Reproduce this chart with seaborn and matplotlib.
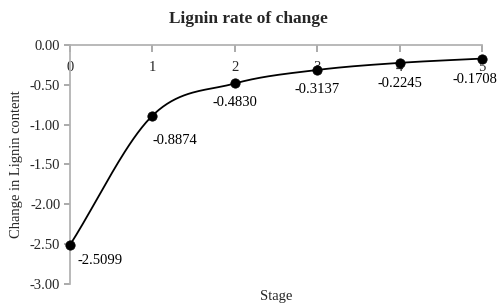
import numpy as np
import matplotlib
matplotlib.use("Agg")
import matplotlib.pyplot as plt
import seaborn as sns
import pandas as pd

stages = [0, 1, 2, 3, 4, 5]
values = [-2.5099, -0.8874, -0.4830, -0.3137, -0.2245, -0.1708]
labels = ["-2.5099", "-0.8874", "-0.4830", "-0.3137", "-0.2245", "-0.1708"]
yticks = [0.0, -0.5, -1.0, -1.5, -2.0, -2.5, -3.0]

sns.set_theme(style="white")
plt.rcParams['font.family'] = ['Liberation Serif', 'DejaVu Serif']

fig = plt.figure(figsize=(4.97, 3.06), dpi=100)
ax = fig.add_axes([0.1408, 0.0719, 0.829, 0.7811])

# smoothed line (Catmull-Rom through the data points, like Excel's smoothing)
x = np.array(stages, float); y = np.array(values, float)
px = np.concatenate([[2*x[0]-x[1]], x, [2*x[-1]-x[-2]]])
py = np.concatenate([[2*y[0]-y[1]], y, [2*y[-1]-y[-2]]])
sx, sy = [], []
for i in range(1, len(px)-2):
    t = np.linspace(0, 1, 40)
    for arr, out in ((px, sx), (py, sy)):
        p0, p1, p2, p3 = arr[i-1], arr[i], arr[i+1], arr[i+2]
        out.extend(0.5*((2*p1) + (-p0+p2)*t + (2*p0-5*p1+4*p2-p3)*t**2 + (-p0+3*p1-3*p2+p3)*t**3))
ax.plot(sx, sy, color='black', lw=1.3, zorder=2)

df = pd.DataFrame({"Stage": stages, "Change": values})
sns.scatterplot(data=df, x="Stage", y="Change", ax=ax, color='black', s=45,
                edgecolor='black', zorder=3, clip_on=False)

offsets = [(22, -11), (16, -18), (0, -14), (0, -14), (0, -14.5), (-5, -15)]
for xi, yi, lab, off in zip(stages, values, labels, offsets):
    ax.annotate(lab, (xi, yi), xytext=off, textcoords='offset points',
                ha='center', va='center', fontsize=10.5, color='black',
                annotation_clip=False)

ax.set_xlim(0, 5)
ax.set_ylim(-3.0, 0.0)
ax.set_yticks(yticks)
ax.set_yticklabels([f"{v:.2f}" for v in yticks], fontsize=10.5)
ax.set_xticks(stages)
ax.set_xticklabels([str(s) for s in stages], fontsize=10.5)
ax.xaxis.set_ticks_position('top')
ax.tick_params(axis='x', direction='in', length=5, color='#a0a0a0', pad=-21, labeltop=True, labelbottom=False)
ax.tick_params(axis='y', direction='out', length=4, color='#a0a0a0', pad=3, left=True)
for s in ['right', 'bottom']:
    ax.spines[s].set_visible(False)
ax.spines['top'].set_color('#b0b0b0')
ax.spines['left'].set_color('#b0b0b0')
ax.grid(False)

ax.set_xlabel("Stage", fontsize=10.5)
ax.xaxis.set_label_position('bottom')
ax.xaxis.labelpad = 4
ax.set_ylabel("Change in Lignin content", fontsize=10.5, labelpad=5)
fig.suptitle("Lignin rate of change", fontsize=12.5, fontweight='bold', y=0.965)

fig.savefig("out.png", dpi=100)
